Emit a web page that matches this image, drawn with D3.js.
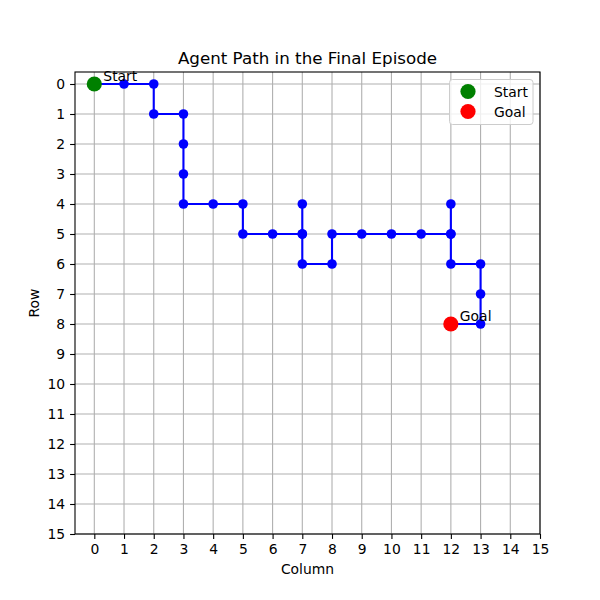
<!DOCTYPE html>
<html><head><meta charset="utf-8">
<script src="https://cdn.jsdelivr.net/npm/d3@7"></script>
<style>body{margin:0;background:#fff}svg{display:block;font-family:"DejaVu Sans",sans-serif}</style>
</head><body>
<svg id="c" width="600" height="600"></svg>
<script>
const pathCols = [0,1,2,2,3,3,3,3,4,5,5,6,7,7,7,7,8,8,9,10,11,12,12,12,12,13,13,13,12];
const pathRows = [0,0,0,1,1,2,3,4,4,4,5,5,5,4,5,6,6,5,5,5,5,5,4,5,6,6,7,8,8];
const startPt = [0,0];
const goalPt = [12,8];
const tickValues = d3.range(0,16);
const legendLabels = ["Start","Goal"];
const legendColors = ["green","red"];

const svg = d3.select("#c");
const L=75,R=540,T=72,B=534;
const x = d3.scaleLinear().domain([-0.65,15]).range([L,R]);
const y = d3.scaleLinear().domain([-0.4,15]).range([T,B]);

// grid
const g = svg.append("g");
g.selectAll(".gx").data(tickValues).join("line")
 .attr("x1",d=>x(d)).attr("x2",d=>x(d)).attr("y1",T).attr("y2",B)
 .attr("stroke","#b0b0b0").attr("stroke-width",1.1);
g.selectAll(".gy").data(tickValues).join("line")
 .attr("y1",d=>y(d)).attr("y2",d=>y(d)).attr("x1",L).attr("x2",R)
 .attr("stroke","#b0b0b0").attr("stroke-width",1.1);

// path
const pts = pathCols.map((c,i)=>[c,pathRows[i]]);
svg.append("path").datum(pts)
 .attr("d",d3.line().x(d=>x(d[0])).y(d=>y(d[1])))
 .attr("fill","none").attr("stroke","#0000ff").attr("stroke-width",2.1).attr("stroke-linejoin","round");
svg.selectAll(".pt").data(pts).join("circle")
 .attr("cx",d=>x(d[0])).attr("cy",d=>y(d[1])).attr("r",4.8).attr("fill","#0000ff");

svg.append("circle").attr("cx",x(startPt[0])).attr("cy",y(startPt[1])).attr("r",7.6).attr("fill","green");
svg.append("circle").attr("cx",x(goalPt[0])).attr("cy",y(goalPt[1])).attr("r",7.6).attr("fill","red");
svg.append("text").attr("x",x(startPt[0])+9).attr("y",y(startPt[1])-3).attr("font-size","13.9px").attr("fill","#000").text("Start");
svg.append("text").attr("x",x(goalPt[0])+9).attr("y",y(goalPt[1])-3).attr("font-size","13.9px").attr("fill","#000").text("Goal");

// axes
const xa = svg.append("g").attr("transform",`translate(0,${B})`)
 .call(d3.axisBottom(x).tickValues(tickValues).tickSize(4.9).tickPadding(4.9).tickFormat(d3.format("d")));
const ya = svg.append("g").attr("transform",`translate(${L},0)`)
 .call(d3.axisLeft(y).tickValues(tickValues).tickSize(4.9).tickPadding(4.9).tickFormat(d3.format("d")));
[xa,ya].forEach(a=>{a.select(".domain").remove();a.selectAll("text").attr("font-size","13.9px").attr("font-family","DejaVu Sans").attr("fill","#000");a.selectAll("line").attr("stroke","#000").attr("stroke-width",1.1);});

svg.append("rect").attr("x",L).attr("y",T).attr("width",R-L).attr("height",B-T)
 .attr("fill","none").attr("stroke","#000").attr("stroke-width",1.1);

// legend
const lg = svg.append("g");
lg.append("rect").attr("x",449.5).attr("y",79.5).attr("width",83.5).attr("height",45).attr("rx",3)
 .attr("fill","#fff").attr("fill-opacity",0.8).attr("stroke","#cccccc").attr("stroke-width",1);
legendLabels.forEach((lab,i)=>{
  const cy = 91.5+i*20;
  lg.append("circle").attr("cx",468).attr("cy",cy).attr("r",7.6).attr("fill",legendColors[i]);
  lg.append("text").attr("x",494).attr("y",cy+5).attr("font-size","13.9px").attr("fill","#000").text(lab);
});

svg.append("text").attr("x",(L+R)/2).attr("y",64).attr("text-anchor","middle").attr("font-size","16.7px").text("Agent Path in the Final Episode");
svg.append("text").attr("x",(L+R)/2).attr("y",574).attr("text-anchor","middle").attr("font-size","13.9px").text("Column");
svg.append("text").attr("transform",`translate(39,${(T+B)/2}) rotate(-90)`).attr("text-anchor","middle").attr("font-size","13.9px").text("Row");
</script>
</body></html>
